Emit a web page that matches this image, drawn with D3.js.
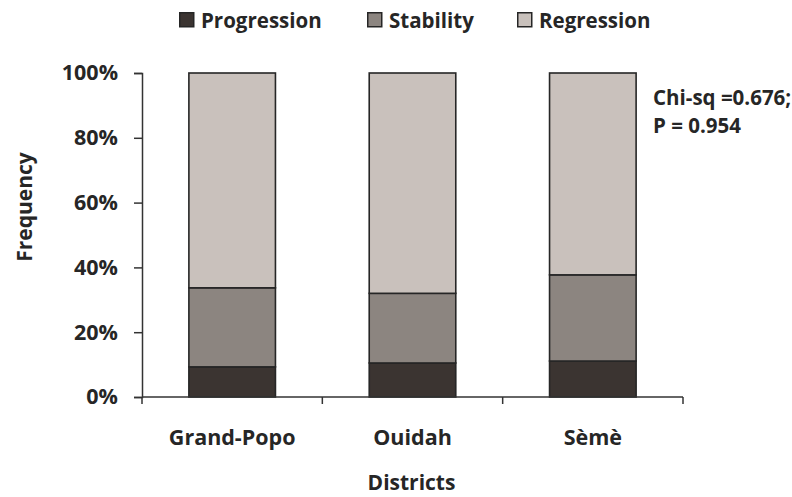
<!DOCTYPE html>
<html>
<head>
<meta charset="utf-8">
<script src="https://cdn.jsdelivr.net/npm/d3@7"></script>
<style>
  html, body { margin: 0; padding: 0; background: #fff; }
  svg text { font-family: "Open Sans", Lato, sans-serif; font-weight: 700; fill: #262626; }
</style>
</head>
<body>
<svg id="chart" width="792" height="497"></svg>
<script>
// Share of each trend per district (percent)
const districts = ["Grand-Popo", "Ouidah", "Sèmè"];
const seriesNames = ["Progression", "Stability", "Regression"];
const progression = [9.3, 10.5, 11.1];
const stability = [24.4, 21.5, 26.6];
const regression = [66.3, 68.0, 62.3];
const yTicks = [0, 20, 40, 60, 80, 100];
const annotation = ["Chi-sq =0.676;", "P = 0.954"];

const colors = { Progression: "#3b3431", Stability: "#8c8580", Regression: "#c9c1bc" };

const rows = districts.map((d, i) => ({
  district: d,
  Progression: progression[i],
  Stability: stability[i],
  Regression: regression[i]
}));

const svg = d3.select("#chart");
const plotLeft = 142, plotRight = 683, plotTop = 73, plotBottom = 397;

const x = d3.scaleBand().domain(districts).range([plotLeft, plotRight]).paddingInner(0.52).paddingOuter(0.26);
const y = d3.scaleLinear().domain([0, 100]).range([plotBottom, plotTop]);

const stacked = d3.stack().keys(seriesNames)(rows);

// Stacked bars
svg.append("g").selectAll("g")
  .data(stacked)
  .join("g")
  .attr("fill", s => colors[s.key])
  .selectAll("rect")
  .data(s => s)
  .join("rect")
  .attr("x", d => x(d.data.district))
  .attr("y", d => y(d[1]))
  .attr("width", x.bandwidth())
  .attr("height", d => y(d[0]) - y(d[1]))
  .attr("stroke", "#262626")
  .attr("stroke-width", 1.6);

// Y axis
const yAxis = svg.append("g")
  .attr("transform", `translate(${plotLeft},0)`)
  .call(d3.axisLeft(y).tickValues(yTicks).tickFormat(d => d + "%").tickSize(8).tickPadding(16));
yAxis.select(".domain").attr("stroke", "#333").attr("stroke-width", 1.5);
yAxis.selectAll(".tick line").attr("stroke", "#333").attr("stroke-width", 1.5);
yAxis.selectAll(".tick text").style("font-size", "21.5px").attr("fill", "#262626");

// X axis: baseline with tick marks at category boundaries
const xAxis = svg.append("g").attr("transform", `translate(0,${plotBottom})`);
xAxis.append("line")
  .attr("x1", plotLeft).attr("x2", plotRight)
  .attr("stroke", "#333").attr("stroke-width", 1.5);
const step = x.step();
const bounds = d3.range(districts.length + 1).map(i => plotLeft + i * step);
xAxis.selectAll("line.tick")
  .data(bounds)
  .join("line")
  .attr("class", "tick")
  .attr("x1", d => d).attr("x2", d => d)
  .attr("y1", 0).attr("y2", 7)
  .attr("stroke", "#333").attr("stroke-width", 1.5);
xAxis.selectAll("text")
  .data(districts)
  .join("text")
  .attr("x", d => x(d) + x.bandwidth() / 2)
  .attr("y", 48)
  .attr("text-anchor", "middle")
  .style("font-size", "21.5px")
  .text(d => d);

// Axis titles
svg.append("text")
  .attr("x", (plotLeft + plotRight) / 2 - 1)
  .attr("y", 490)
  .attr("text-anchor", "middle")
  .style("font-size", "21px")
  .text("Districts");

svg.append("text")
  .attr("transform", "translate(32,207) rotate(-90)")
  .attr("text-anchor", "middle")
  .style("font-size", "21px")
  .text("Frequency");

// Test statistic
svg.append("g").selectAll("text")
  .data(annotation)
  .join("text")
  .attr("x", 653)
  .attr("y", (d, i) => 105 + i * 28)
  .style("font-size", "20.5px")
  .text(d => d);

// Legend
const legendX = [179, 367, 517];
const legend = svg.append("g").selectAll("g")
  .data(seriesNames)
  .join("g")
  .attr("transform", (d, i) => `translate(${legendX[i]},12)`);
legend.append("rect")
  .attr("width", 14).attr("height", 14)
  .attr("x", 0.75).attr("y", 0.75)
  .attr("fill", d => colors[d])
  .attr("stroke", "#262626")
  .attr("stroke-width", 1.5);
legend.append("text")
  .attr("x", 22)
  .attr("y", 16)
  .style("font-size", "20.5px")
  .text(d => d);
</script>
</body>
</html>
